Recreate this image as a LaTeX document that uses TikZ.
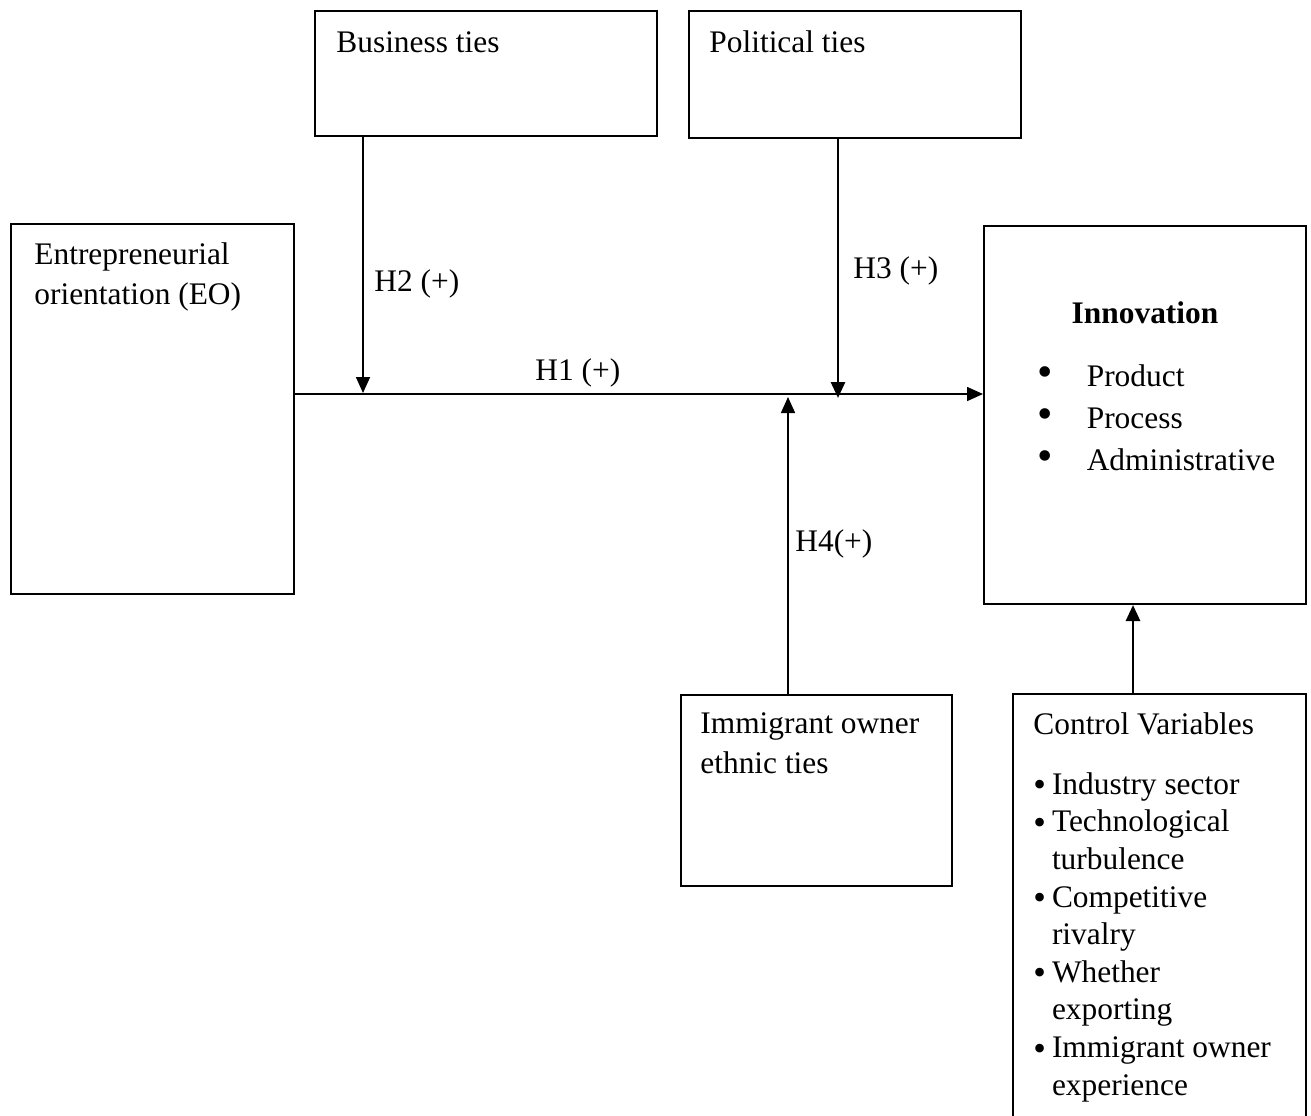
\documentclass[tikz,border=0pt]{standalone}
\usepackage{fontspec}
\setmainfont{Liberation Serif}
\usetikzlibrary{arrows.meta, positioning, calc}

\newcommand{\bigbul}{{\fontsize{22}{21}\selectfont\textbullet}}
\newcommand{\bul}{\raisebox{-1.3pt}{\fontsize{18}{18.8}\selectfont\textbullet}\hspace{3pt}}
\newcommand{\nobul}{\phantom{\bul}}

\begin{document}
\begin{tikzpicture}[
    x=0.5pt, y=-0.5pt,
    every node/.style={font=\fontsize{15.7}{20}\selectfont},
    box/.style={rectangle, draw, line width=1pt, anchor=north west, inner sep=0pt},
    txt/.style={anchor=base west, align=left, inner sep=0pt},
    link/.style={line width=0.8pt, -{Triangle[length=8pt, width=7pt]}},
    strong link/.style={link, line width=1.4pt}
]
\useasboundingbox (0,0) rectangle (1311,1115);

% Boxes
\node[box, minimum width=171pt, minimum height=62.5pt] (biz) at (314,10) {};
\node[box, minimum width=166pt, minimum height=63.5pt] (pol) at (688,10) {};
\node[box, minimum width=141.5pt, minimum height=185pt] (eo) at (10,223) {};
\node[box, minimum width=161pt, minimum height=189pt] (inno) at (983,225) {};
\node[box, minimum width=135.5pt, minimum height=95.5pt] (immi) at (680,694) {};
\node[box, minimum width=146.5pt, minimum height=215pt] (ctrl) at (1012,693) {};

% Box texts (multi-line nodes sit on their last baseline)
\node[txt] (biztext) at (336,52) {Business ties};
\node[txt] (poltext) at (709,52) {Political ties};
\node[txt] (eotext) at (34,304) {Entrepreneurial\\orientation (EO)};
\node[txt, anchor=base] (innotitle) at (1145,323) {\textbf{Innovation}};
\node[txt, font=\fontsize{15.7}{21}\selectfont] (innolist) at (1037,470)
    {\bigbul\hspace{17pt}Product\\
     \bigbul\hspace{17pt}Process\\
     \bigbul\hspace{17pt}Administrative};
\node[txt] (immitext) at (700,773) {Immigrant owner\\ethnic ties};
\node[txt, font=\fontsize{15.7}{18.8}\selectfont] (ctrltext) at (1033,1095)
    {Control Variables\\[11pt]
     \bul Industry sector\\
     \bul Technological\\
     \nobul turbulence\\
     \bul Competitive\\
     \nobul rivalry\\
     \bul Whether\\
     \nobul exporting\\
     \bul Immigrant owner\\
     \nobul experience};

% Hypothesis labels
\node[txt] (h1) at (535,380) {H1 (+)};
\node[txt] (h2) at (374,291) {H2 (+)};
\node[txt] (h3) at (853,278) {H3 (+)};
\node[txt] (h4) at (795,551) {H4(+)};

% Points on the main path
\coordinate (m2) at (363,393);
\coordinate (m3) at (838,398);
\coordinate (m4) at (788,397);
\coordinate (m5) at (1133,0);

% Connectors
\draw[link] ([yshift=7.5pt]eo.east) -- ([yshift=7.5pt]eo.east -| inno.west);
\draw[link] (m2 |- biz.south) -- (m2);
\draw[strong link] (m3 |- pol.south) -- (m3);
\draw[link] (m4 |- immi.north) -- (m4);
\draw[strong link] (m5 |- ctrl.north) -- (m5 |- inno.south);
\end{tikzpicture}
\end{document}
